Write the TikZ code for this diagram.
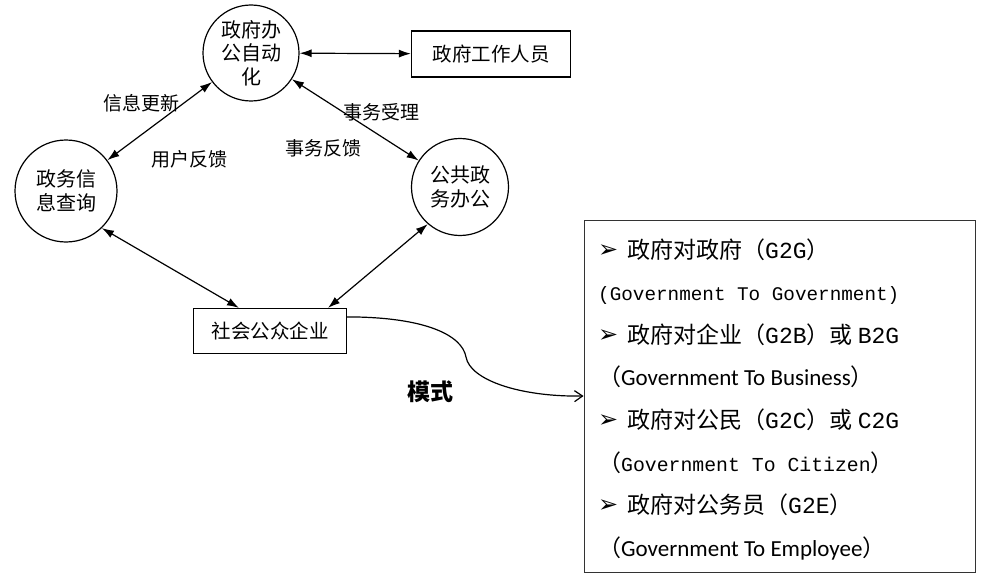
\documentclass[tikz,border=0pt]{standalone}
\usepackage{fontspec}
\setmainfont{Noto Sans CJK SC}
\newfontfamily\cjk{Noto Sans CJK SC}
\newfontfamily\monof{Liberation Mono}
\newfontfamily\carl{Carlito}
\newfontfamily\dejavu{DejaVu Sans}
\usetikzlibrary{arrows.meta}
\tikzset{
  circ/.style={draw, circle, line width=1.2pt, inner sep=0pt, align=center, font=\fontsize{20}{23.5}\selectfont},
  rbox/.style={draw, rectangle, line width=1.2pt, inner sep=0pt, font=\fontsize{19.5}{23}\selectfont},
  lbl/.style={inner sep=0pt, font=\fontsize{19}{23}\selectfont},
  dbl/.style={line width=1.2pt, {Latex[length=12pt,width=8pt]}-{Latex[length=12pt,width=8pt]}},
  ln/.style={anchor=base west, inner sep=0pt},
}
\newcommand{\bul}{\makebox[29pt][l]{\raisebox{1pt}{\dejavu\fontsize{24}{26}\selectfont ➢}}}
\begin{document}
\begin{tikzpicture}[x=1pt,y=-1pt]
\useasboundingbox (0,0) rectangle (989,586);
% circles and boxes
\node[circ, minimum size=96pt] (top) at (251,53) {政府办\\公自动\\化};
\node[circ, minimum size=102pt] (left) at (66,191) {政务信\\息查询};
\node[circ, minimum size=97pt] (right) at (460,187) {公共政\\务办公};
\node[rbox, minimum width=159pt, minimum height=46pt] (staff) at (491,54) {政府工作人员};
\node[rbox, minimum width=153pt, minimum height=45pt] (soc) at (270,331) {社会公众企业};
\node[draw, line width=0.9pt, color=black!80, minimum width=391pt, minimum height=352pt, inner sep=0pt] (modes) at (779.5,396) {};
% labels
\node[lbl] (l1) at (141,103) {信息更新};
\node[lbl] (l2) at (189,159) {用户反馈};
\node[lbl] (l3) at (381,112) {事务受理};
\node[lbl] (l4) at (323,148) {事务反馈};
\node[inner sep=0pt, font=\fontsize{23}{28}\selectfont\bfseries] (mode) at (430,392) {模式};
% connectors
\draw[dbl] (top) -- (staff);
\draw[dbl] (top) -- (left);
\draw[dbl] (top) -- (right);
\draw[dbl] (left.-46) -- ([xshift=-31pt]soc.north);
\draw[dbl] (right.-131) -- ([xshift=58pt]soc.north);
\draw[line width=1.2pt, -{Straight Barb[length=8pt,width=11pt]}] ([yshift=-9pt]soc.north east) .. controls (425,317) and (462,335) .. (466,357) .. controls (470,380) and (520,397) .. (modes.west);
% text lines in the mode box
\node[ln] (t1) at (598,258) {\bul\cjk\fontsize{23}{28}\selectfont 政府对政府（{\monof G2G}）};
\node[ln] (t2) at (598,300) {\monof\fontsize{19.3}{22}\selectfont (Government To Government)};
\node[ln] (t3) at (598,343) {\bul\cjk\fontsize{23}{28}\selectfont 政府对企业（{\monof G2B}）或 {\monof B2G}};
\node[ln] (t4) at (598,385) {\fontsize{23}{28}\selectfont\cjk （\carl Government To Business\cjk ）};
\node[ln] (t5) at (598,428) {\bul\cjk\fontsize{23}{28}\selectfont 政府对公民（{\monof G2C}）或 {\monof C2G}};
\node[ln] (t6) at (598,471) {\fontsize{23}{28}\selectfont\cjk （{\monof\fontsize{19.8}{24}\selectfont Government To Citizen}）};
\node[ln] (t7) at (598,513) {\bul\cjk\fontsize{23}{28}\selectfont 政府对公务员（{\monof G2E}）};
\node[ln] (t8) at (598,556) {\fontsize{23}{28}\selectfont\cjk （\carl Government To Employee\cjk ）};
\end{tikzpicture}
\end{document}
